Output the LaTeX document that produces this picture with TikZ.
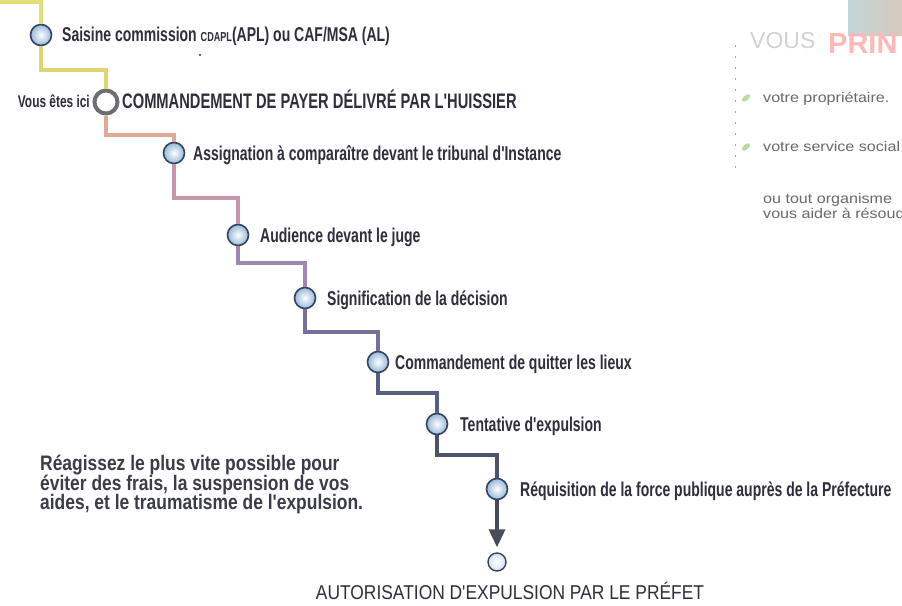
\documentclass[tikz,border=0pt]{standalone}
\usepackage{fontspec}
\setmainfont{Liberation Sans}
\newfontfamily\labfont[FakeStretch=0.70]{Liberation Sans}
\newfontfamily\parfont[FakeStretch=0.83]{Liberation Sans}
\newfontfamily\autfont[FakeStretch=0.87]{Liberation Sans}
\newfontfamily\sidefont[FakeStretch=1.15]{Liberation Sans}
\usetikzlibrary{arrows.meta}
\definecolor{cyel}{RGB}{228,222,120}
\definecolor{cyel2}{RGB}{224,212,112}
\definecolor{csal}{RGB}{226,168,150}
\definecolor{cmau}{RGB}{200,150,172}
\definecolor{clil}{RGB}{160,134,178}
\definecolor{cpur}{RGB}{118,112,156}
\definecolor{cslt}{RGB}{90,94,130}
\definecolor{cdk}{RGB}{76,82,108}
\definecolor{carr}{RGB}{72,76,90}
\definecolor{balledge}{RGB}{52,66,100}
\definecolor{ballfill}{RGB}{150,184,214}
\definecolor{txt}{RGB}{46,46,60}
\definecolor{sidetxt}{RGB}{105,105,110}
\definecolor{leafc}{RGB}{184,220,160}
\definecolor{ringcol}{RGB}{110,110,112}
\definecolor{partxt}{RGB}{58,60,72}
\begin{document}
\begin{tikzpicture}[x=1pt,y=-1pt,
  ball/.style={circle,minimum size=21pt,inner sep=0pt,draw=balledge,line width=1.6pt,inner color=white,outer color=ballfill},
  ring/.style={circle,minimum size=23pt,inner sep=0pt,draw=ringcol,line width=4pt,fill=white},
  endball/.style={circle,minimum size=18pt,inner sep=0pt,draw=balledge,line width=1.4pt,inner color=white,outer color=ballfill!40},
  lab/.style={anchor=base west,inner sep=0pt,text=txt,font=\labfont\bfseries\fontsize{20}{22}\selectfont},
  seg/.style={line width=3.5pt},
  side/.style={anchor=base west,inner sep=0pt,text=sidetxt,font=\sidefont\fontsize{14}{15.5}\selectfont},
  para/.style={anchor=base west,inner sep=0pt,text=partxt,font=\parfont\bfseries\fontsize{21}{19.5}\selectfont},
]
\fill[white] (0,0) rectangle (902,605);
\useasboundingbox (0,0) rectangle (902,605);

% step markers
\node[ball] (c1) at (41,35) {};
\node[ring] (c2) at (106,102) {};
\node[ball] (c3) at (174,153) {};
\node[ball] (c4) at (238,235) {};
\node[ball] (c5) at (305,298) {};
\node[ball] (c6) at (378,362) {};
\node[ball] (c7) at (437,424) {};
\node[ball] (c8) at (497,489) {};
\node[endball] (c9) at (497,562) {};
\coordinate (top) at (0,2);

% staircase connectors
\draw[seg,cyel] (top) -| (c1.north);
\draw[seg,cyel2] (c1.south) -- (c1.south |- 0,70) -| (c2.north);
\draw[seg,csal] (c2.south) -- (c2.south |- 0,135) -| (c3.north);
\draw[seg,cmau] (c3.south) -- (c3.south |- 0,198) -| (c4.north);
\draw[seg,clil] (c4.south) -- (c4.south |- 0,263) -| (c5.north);
\draw[seg,cpur] (c5.south) -- (c5.south |- 0,332) -| (c6.north);
\draw[seg,cslt] (c6.south) -- (c6.south |- 0,393) -| (c7.north);
\draw[seg,cdk] (c7.south) -- (c7.south |- 0,455) -| (c8.north);
\draw[seg,carr,shorten >=5pt,-{Triangle[width=16pt,length=18pt]}] (c8.south) -- (c9.north);

% labels
\node[lab] (t1) at (62,41) {Saisine commission {\fontsize{13}{13}\selectfont CDAPL}(APL) ou CAF/MSA (AL)};
\node[lab,anchor=base east,font=\labfont\bfseries\fontsize{17}{19}\selectfont] (t2) at (90,107) {Vous êtes ici};
\node[lab,font=\labfont\bfseries\fontsize{21}{23}\selectfont] (t3) at (122,108) {COMMANDEMENT DE PAYER DÉLIVRÉ PAR L'HUISSIER};
\node[lab] (t4) at (193,160) {Assignation à comparaître devant le tribunal d'Instance};
\node[lab] (t5) at (260,242) {Audience devant le juge};
\node[lab] (t6) at (327,305) {Signification de la décision};
\node[lab] (t7) at (395,369) {Commandement de quitter les lieux};
\node[lab] (t8) at (460,431) {Tentative d'expulsion};
\node[lab] (t9) at (520,496) {Réquisition de la force publique auprès de la Préfecture};
\node[anchor=base,inner sep=0pt,text=txt,font=\autfont\fontsize{20}{22}\selectfont] (t10) at (510,599) {AUTORISATION D'EXPULSION PAR LE PRÉFET};

% advice paragraph
\node[para] (p1) at (40,470) {Réagissez le plus vite possible pour};
\node[para] (p2) at (40,490) {éviter des frais, la suspension de vos};
\node[para] (p3) at (40,509) {aides, et le traumatisme de l'expulsion.};

% stray dot
\fill[black!80] (200,55) circle (1.2pt);

% right column
\fill[left color=cyan!10, right color=orange!12, opacity=0.8] (848,0) rectangle (902,36);
\node[anchor=base west,inner sep=0pt,text=black!18,font=\fontsize{23}{25}\selectfont] (vous) at (750,48) {VOUS};
\node[anchor=base west,inner sep=0pt,text=red!28,font=\bfseries\fontsize{29}{31}\selectfont] (prin) at (828,53) {PRIN};
\draw[black!35,line width=1pt,dash pattern=on 2pt off 9pt] (735,45) -- (735,170);
\fill[leafc,rotate around={40:(746,98)}] (746,98) ellipse (5pt and 2.5pt);
\fill[leafc,rotate around={40:(746,147)}] (746,147) ellipse (5pt and 2.5pt);
\node[side] (r1) at (763,102) {votre propriétaire.};
\node[side] (r2) at (763,151) {votre service social};
\node[side] (r3) at (763,203) {ou tout organisme};
\node[side] (r4) at (763,218) {vous aider à résoudre};
\end{tikzpicture}
\end{document}
